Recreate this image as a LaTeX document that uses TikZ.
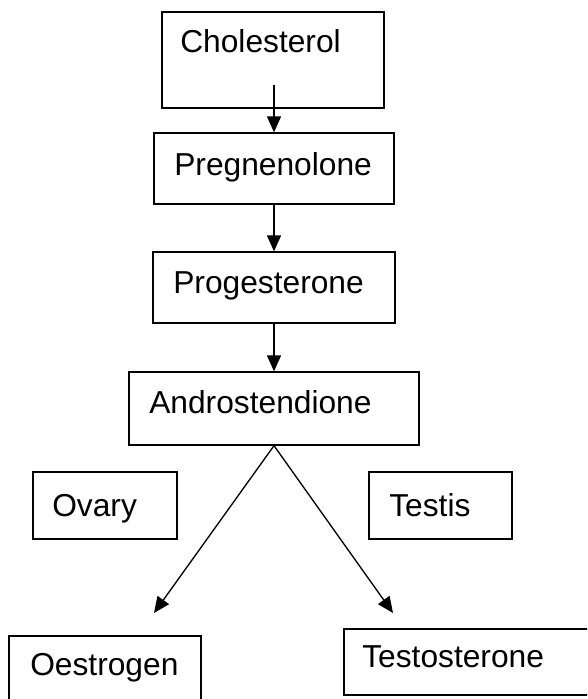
\documentclass[tikz,border=0pt]{standalone}
\usepackage{fontspec}
\setmainfont{Liberation Sans}
\usetikzlibrary{fit,arrows.meta}
\begin{document}
\begin{tikzpicture}[x=0.75pt,y=-0.75pt,
  box/.style={draw=black,line width=1pt,inner sep=0pt},
  lbl/.style={anchor=base west,inner sep=0pt,font=\fontsize{23.8pt}{28pt}\selectfont},
  arr/.style={line width=1pt,-{Triangle[length=12pt,width=10.5pt]}}]
\useasboundingbox (0,0) rectangle (587,699);
\clip (0,0) rectangle (587,699);
% boxes
\node[box,fit={(162,12) (384,108)}] (chol) {};
\node[box,fit={(154,133) (394,204)}] (preg) {};
\node[box,fit={(153,252) (395,323)}] (prog) {};
\node[box,fit={(129,372) (419,445)}] (andro) {};
\node[box,fit={(33,472) (177,539)}] (ovary) {};
\node[box,fit={(369,472) (512,539)}] (testis) {};
\node[box,fit={(9,636) (201,710)}] (oest) {};
\node[box,fit={(344,629) (600,695)}] (testo) {};
% texts
\node[lbl] (tchol) at (180,53) {Cholesterol};
\node[lbl] (tpreg) at (174,175) {Pregnenolone};
\node[lbl] (tprog) at (173,293) {Progesterone};
\node[lbl] (tandro) at (149,413) {Androstendione};
\node[lbl] (tovary) at (52,516) {Ovary};
\node[lbl] (ttestis) at (389,516) {Testis};
\node[lbl] (toest) at (30,675) {Oestrogen};
\node[lbl] (ttesto) at (362,667) {Testosterone};
% connectors
\coordinate (cstart) at (274,85);
\coordinate (tipL) at (154,613);
\coordinate (tipR) at (393,613);
\draw[arr] (cstart) -- (cstart |- preg.north);
\draw[arr] (preg.south) -- (preg.south |- prog.north);
\draw[arr] (prog.south) -- (prog.south |- andro.north);
\draw[arr] (andro.south) -- (tipL);
\draw[arr] (andro.south) -- (tipR);
\end{tikzpicture}
\end{document}
